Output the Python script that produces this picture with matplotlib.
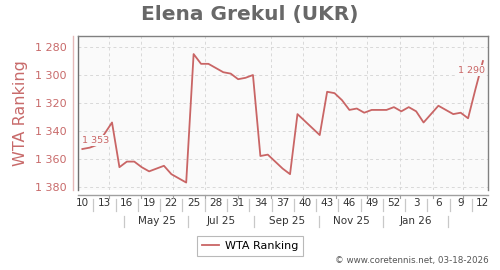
import matplotlib
matplotlib.use("Agg")
import matplotlib.pyplot as plt
import matplotlib.dates as mdates
import numpy as np
import datetime as dt

# weekly WTA ranking, week 10 of 2025 .. week 12 of 2026
weeks = list(range(10, 53)) + list(range(1, 13))
ranking = [1353, 1352, 1350, 1342, 1334, 1366, 1362, 1362, 1366, 1369,
           1367, 1365, 1371, 1374, 1377, 1285, 1292, 1292, 1295, 1298,
           1299, 1303, 1302, 1300, 1358, 1357, 1362, 1367, 1371, 1328,
           1333, 1338, 1343, 1312, 1313, 1318, 1325, 1324, 1327, 1325,
           1325, 1325, 1323, 1326, 1323, 1326, 1334, 1328, 1322, 1325,
           1328, 1327, 1331, 1310, 1290]
y_ticks = [1280, 1300, 1320, 1340, 1360, 1380]
month_labels = ["May 25", "Jul 25", "Sep 25", "Nov 25", "Jan 26"]
month_label_dates = [dt.date(2025, 5, 16), dt.date(2025, 7, 16), dt.date(2025, 9, 16),
                     dt.date(2025, 11, 16), dt.date(2026, 1, 16)]
month_sep_dates = [dt.date(2025, 4, 15), dt.date(2025, 6, 15), dt.date(2025, 8, 16),
                   dt.date(2025, 10, 16), dt.date(2025, 12, 16), dt.date(2026, 2, 15)]

start = dt.date(2025, 3, 7)
dates = [start + dt.timedelta(weeks=i) for i in range(len(ranking))]
xd = mdates.date2num(dates)

line_c = "#c96565"
red_txt = "#c86a6a"

fig = plt.figure(figsize=(5, 2.7), dpi=100)
ax = fig.add_axes([0.156, 0.296, 0.82, 0.571])
ax.set_facecolor("#fafafa")

ax.plot(xd, ranking, color=line_c, lw=1.3, zorder=3, label="WTA Ranking")

ax.set_ylim(1382.4, 1272)
ax.set_xlim(xd[0] - 4.1, xd[0] + 382.8)

# month grid lines
ax.xaxis.set_minor_locator(mdates.MonthLocator())
ax.set_yticks(y_ticks)
ax.set_yticklabels([f"{v:,}".replace(",", " ") for v in y_ticks])
ax.grid(True, which="minor", axis="x", color="#d8d8d8", ls=(0, (3, 3)), lw=0.7)
ax.grid(True, which="major", axis="y", color="#d8d8d8", ls=(0, (3, 3)), lw=0.7)

for s in ["top", "right", "left"]:
    ax.spines[s].set_color("#808080")
    ax.spines[s].set_linewidth(1.0)
ax.spines["left"].set_color("#707070")
ax.spines["bottom"].set_visible(False)

# offset axis lines (y on the left, x below)
ax.plot([-5 / 410, -5 / 410], [0, 1], transform=ax.transAxes,
        color="#e5b8b8", lw=1.0, clip_on=False)
ax.plot([0, 1], [-5 / 154, -5 / 154], transform=ax.transAxes,
        color="#a0a0a0", lw=1.0, clip_on=False)

ax.tick_params(axis="y", which="both", length=0, labelsize=8, labelcolor=red_txt, pad=8)
ax.tick_params(axis="x", which="both", length=0)

# week labels
xt = xd[::3]
ax.set_xticks(xt)
ax.set_xticklabels([str(w) for w in weeks[::3]])
ax.tick_params(axis="x", labelsize=7.5, labelcolor="#333333", pad=6)

trans = ax.get_xaxis_transform()
for xm in mdates.date2num([dt.date(2025, m, 1) for m in range(4, 13)] +
                          [dt.date(2026, m, 1) for m in range(1, 4)]):
    ax.plot([xm, xm], [-5 / 154, -8 / 154], transform=trans, color="#a0a0a0",
            lw=0.8, clip_on=False)
for xs in (xt[:-1] + xt[1:]) / 2:
    ax.plot([xs, xs], [-0.055, -0.135], transform=trans, color="#c8c8c8",
            lw=0.9, clip_on=False)
for xs in mdates.date2num(month_sep_dates):
    ax.plot([xs, xs], [-0.165, -0.238], transform=trans, color="#c8c8c8",
            lw=0.9, clip_on=False)
for xl, lab in zip(mdates.date2num(month_label_dates), month_labels):
    ax.text(xl, -0.2, lab, transform=trans, ha="center", va="center",
            fontsize=7.5, color="#333333")

ax.set_ylabel("WTA Ranking", color=red_txt, fontsize=11.5)
ax.yaxis.set_label_coords(-50 / 410, 0.5)

# first / last data labels
ax.annotate(f"{ranking[0]:,}".replace(",", " "), (xd[0], ranking[0]),
            xytext=(0, 6.3), textcoords="offset points", ha="left", va="center",
            fontsize=6.8, color=line_c, zorder=4,
            bbox=dict(boxstyle="square,pad=0.1", fc="#fafafa", ec="none"))
ax.annotate(f"{ranking[-1]:,}".replace(",", " "), (xd[-1], ranking[-1]),
            xytext=(1.2, -7), textcoords="offset points", ha="right", va="center",
            fontsize=6.8, color=line_c, zorder=4,
            bbox=dict(boxstyle="square,pad=0.1", fc="#fafafa", ec="none"))

fig.text(0.5, 0.945, "Elena Grekul (UKR)", ha="center", va="center",
         fontsize=14.5, fontweight="bold", color="#686868")

leg = fig.legend(loc="center", bbox_to_anchor=(0.5, 0.089), fontsize=8,
                 frameon=True, fancybox=False, handlelength=1.6,
                 borderpad=0.45, handletextpad=0.5)
leg.get_frame().set_edgecolor("#a8a8a8")
leg.get_frame().set_linewidth(0.8)

fig.text(0.978, 0.018, "\u00a9 www.coretennis.net, 03-18-2026", ha="right",
         va="bottom", fontsize=6.3, color="#555555")

fig.savefig("out.png", dpi=100)
